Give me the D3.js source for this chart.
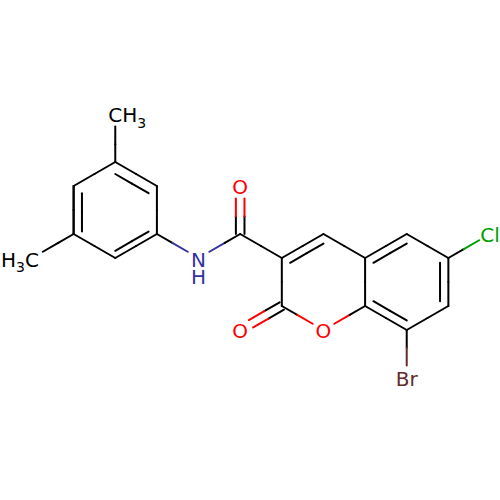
<!DOCTYPE html>
<html>
<head>
<meta charset="utf-8">
<script src="https://cdn.jsdelivr.net/npm/d3@7"></script>
<style>
    html, body { margin: 0; padding: 0; background: #fff; }
    svg { display: block; }
    text { font-family: "DejaVu Sans", sans-serif; }
</style>
</head>
<body>
<div id="chart"></div>
<script>
// atoms, on a grid of half bond widths (col) and quarter-ish rows (row)
var atomNames = ['Me1', 'Ca', 'Cb', 'Cc', 'Cd', 'Ce', 'Cf', 'Me2', 'N', 'Camide', 'Oamide',
    'C3', 'C4', 'C4a', 'C5', 'C6', 'Cl', 'C7', 'C8', 'Br', 'C8a', 'O1', 'C2', 'O2'];
var atomCols = [2, 2, 3, 3, 2, 1, 1, 0, 4, 5, 5, 6, 7, 8, 9, 10, 11, 10, 9, 9, 8, 7, 6, 5];
var atomRows = [0, 2, 3, 5, 6, 5, 3, 6, 6, 5, 3, 6, 5, 6, 5, 6, 5, 8, 9, 11, 8, 9, 8, 9];
var atomElements = ['C', 'C', 'C', 'C', 'C', 'C', 'C', 'C', 'N', 'C', 'O',
    'C', 'C', 'C', 'C', 'C', 'Cl', 'C', 'C', 'Br', 'C', 'O', 'C', 'O'];

var singleBonds = [['Me1', 'Ca'], ['Ce', 'Me2'], ['Cc', 'N'], ['N', 'Camide'], ['Camide', 'C3'],
    ['Cb', 'Cc'], ['Cd', 'Ce'], ['Ce', 'Cf'], ['Cf', 'Ca'],
    ['C3', 'C2'], ['C2', 'O1'], ['O1', 'C8a'], ['C4', 'C4a'], ['C4a', 'C8a'],
    ['C5', 'C6'], ['C7', 'C8'], ['C6', 'Cl'], ['C8', 'Br']];
// [from, to, ring centre col, ring centre row]
var ringDoubleBonds = [['Ca', 'Cb', 2, 4.5], ['Cc', 'Cd', 2, 4.5], ['Ce', 'Cf', 2, 4.5],
    ['C3', 'C4', 7, 7], ['C4a', 'C5', 9, 7], ['C6', 'C7', 9, 7], ['C8', 'C8a', 9, 7]];
var outerDoubleBonds = [['Camide', 'Oamide'], ['C2', 'O2']];

var width = 500,
    height = 500,
    labelGap = 12.5,
    strokeWidth = 2,
    innerShift = 0.2,
    pairOffset = 4.3,
    fontSize = 20,
    subSize = 14;

var colors = { C: '#000000', N: '#33339f', O: '#ff0000', Cl: '#009f00', Br: '#662b2b' };

var x = d3.scaleLinear().domain([0, 11]).range([32, 490]);
var y = d3.scaleLinear().domain([0, 11]).range([114, 378]);

var atoms = {};
atomNames.forEach(function (name, i) {
    atoms[name] = { name: name, x: x(atomCols[i]), y: y(atomRows[i]), el: atomElements[i] };
});

var svg = d3.select('#chart').append('svg')
    .attr('width', width)
    .attr('height', height);

svg.append('rect')
    .attr('width', width)
    .attr('height', height)
    .attr('fill', '#ffffff');

var bondG = svg.append('g').attr('class', 'bonds');
var labelG = svg.append('g').attr('class', 'labels');

var line = d3.line()
    .x(function (d) { return d[0]; })
    .y(function (d) { return d[1]; });

function hasLabel(atom) {
    return atom.el != 'C' || atom.name == 'Me1' || atom.name == 'Me2';
}

// trims the ends at labels, then splits the visible part in two colours
function drawSegment(a, b, p, q) {
    var len = Math.hypot(q[0] - p[0], q[1] - p[1]),
        ux = (q[0] - p[0]) / len,
        uy = (q[1] - p[1]) / len;
    var start = hasLabel(a) ? [p[0] + ux * labelGap, p[1] + uy * labelGap] : p,
        end = hasLabel(b) ? [q[0] - ux * labelGap, q[1] - uy * labelGap] : q,
        mid = [(start[0] + end[0]) / 2, (start[1] + end[1]) / 2];

    [[start, mid, a], [mid, end, b]].forEach(function (part) {
        bondG.append('path')
            .attr('d', line([part[0], part[1]]))
            .attr('fill', 'none')
            .attr('stroke', colors[part[2].el])
            .attr('stroke-width', strokeWidth)
            .attr('stroke-linecap', 'round');
    });
}

singleBonds.forEach(function (b) {
    var a1 = atoms[b[0]], a2 = atoms[b[1]];
    drawSegment(a1, a2, [a1.x, a1.y], [a2.x, a2.y]);
});

ringDoubleBonds.forEach(function (b) {
    var a1 = atoms[b[0]], a2 = atoms[b[1]],
        cx = x(b[2]), cy = y(b[3]);
    drawSegment(a1, a2, [a1.x, a1.y], [a2.x, a2.y]);
    drawSegment(a1, a2,
        [a1.x + (cx - a1.x) * innerShift, a1.y + (cy - a1.y) * innerShift],
        [a2.x + (cx - a2.x) * innerShift, a2.y + (cy - a2.y) * innerShift]);
});

outerDoubleBonds.forEach(function (b) {
    var a1 = atoms[b[0]], a2 = atoms[b[1]],
        len = Math.hypot(a2.x - a1.x, a2.y - a1.y),
        nx = -(a2.y - a1.y) / len * pairOffset,
        ny = (a2.x - a1.x) / len * pairOffset;
    [1, -1].forEach(function (s) {
        drawSegment(a1, a2,
            [a1.x + nx * s, a1.y + ny * s],
            [a2.x + nx * s, a2.y + ny * s]);
    });
});

function addLabel(atom, anchor, dx, dy, parts) {
    var t = labelG.append('text')
        .attr('x', atom.x + dx)
        .attr('y', atom.y + dy)
        .attr('text-anchor', anchor)
        .attr('font-size', fontSize)
        .attr('fill', colors[atom.el]);
    parts.forEach(function (p) {
        var span = t.append('tspan')
            .attr('font-size', p[1] || fontSize)
            .attr('dy', p[2] || 0)
            .text(p[0]);
        if (p[3]) span.attr('x', atom.x + dx);
    });
}

addLabel(atoms.N, 'middle', 0, 8.5, [['N'], ['H', fontSize, 17.5, true]]);
addLabel(atoms.Oamide, 'middle', 0, 7.5, [['O']]);
addLabel(atoms.O1, 'middle', 0, 7.5, [['O']]);
addLabel(atoms.O2, 'middle', 0, 7.5, [['O']]);
addLabel(atoms.Cl, 'middle', 0, 8, [['Cl']]);
addLabel(atoms.Br, 'middle', 0, 8, [['Br']]);
addLabel(atoms.Me1, 'start', -7, 8, [['CH'], ['3', subSize, 6]]);
addLabel(atoms.Me2, 'end', 7, 8.7, [['H'], ['3', subSize, 5.5], ['C', fontSize, -5.5]]);
</script>
</body>
</html>
